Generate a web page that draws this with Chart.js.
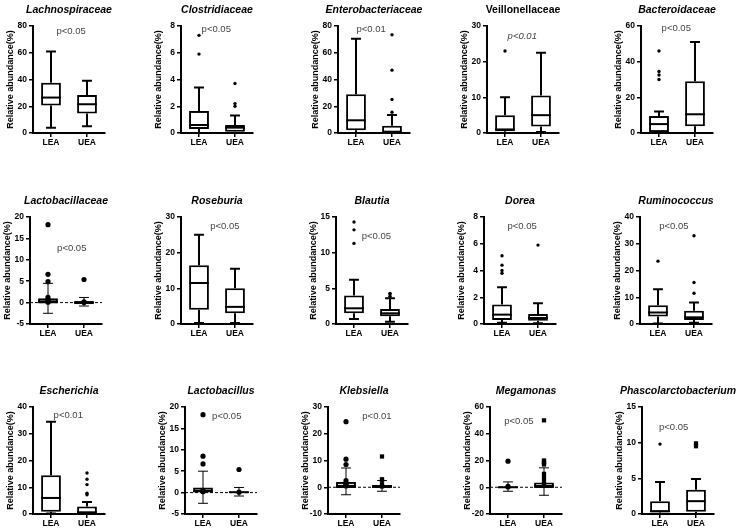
<!DOCTYPE html>
<html>
<head>
<meta charset="utf-8">
<script src="https://cdn.jsdelivr.net/npm/chart.js@4.4.0/dist/chart.umd.min.js"></script>
<style>
body{margin:0;background:#fff;}
#wrap{position:relative;width:740px;height:531px;overflow:hidden;}
#wrap canvas{position:absolute;}
</style>
</head>
<body>
<div id="wrap"></div>
<script>
// ---- data ----
const groups = ['LEA','UEA'];
const taxa = ['Lachnospiraceae','Clostridiaceae','Enterobacteriaceae','Veillonellaceae','Bacteroidaceae',
              'Lactobacillaceae','Roseburia','Blautia','Dorea','Ruminococcus',
              'Escherichia','Lactobacillus','Klebsiella','Megamonas','Phascolarctobacterium'];
const pText = ['p<0.05','p<0.05','p<0.01','p<0.01','p<0.05',
               'p<0.05','p<0.05','p<0.05','p<0.05','p<0.05',
               'p<0.01','p<0.05','p<0.01','p<0.05','p<0.05'];
const yMin  = [0,0,0,0,0, -5,0,0,0,0, 0,-5,-10,-20,0];
const yMax  = [80,8,80,30,60, 20,30,15,8,40, 40,20,30,60,15];
const yStep = [20,2,20,10,20, 5,10,5,2,10, 10,5,10,20,5];

// each entry is [LEA, UEA]
const whiskerLow  = [[4,5],[0,0],[0,0],[0,0.3],[0,0], [-2.5,-0.8],[0.3,0.3],[0.7,0.3],[0.1,0.05],[0.2,0.5], [0.2,0],[-2.5,-0.8],[-2.8,-1.5],[-3,-6],[0,0]];
const q1          = [[20.5,14.5],[0.3,0.1],[2,0.3],[0.5,1.8],[0.5,3.8], [-0.2,-0.3],[4,3],[1.5,1.1],[0.3,0.25],[2.8,1.5], [0.8,0.2],[0,-0.1],[-0.3,-0.3],[-0.5,-0.5],[0.2,0.3]];
const median      = [[26.5,21.5],[0.6,0.4],[9.5,0.8],[1,5],[5,10.5], [0.3,0.1],[11.5,4.8],[2.2,1.5],[0.7,0.45],[4.3,2.5], [6,0.6],[0.3,0.1],[0.5,0.3],[0,1],[0.4,1.8]];
const q3          = [[37.5,28.5],[1.65,0.6],[29,5.5],[5,10.5],[9.5,29], [1,0.3],[16.5,10],[4,2.1],[1.45,0.75],[7,5], [14.5,2.8],[1.2,0.2],[2,0.8],[0.5,3.5],[1.8,3.4]];
const whiskerHigh = [[61,39],[3.4,1.3],[70.5,13.5],[10,22.5],[12,51], [4.5,1.2],[25,15.5],[6.2,3.6],[2.75,1.55],[13,8], [34.5,4.5],[5,1.2],[7.2,2.5],[4,14.5],[4.5,4.9]];
const pointsLEA = [[],[5.9,7.3],[],[23],[30,32.5,34.5,46],
                   [0.1,0.4,0.7,1.2,4.9,6.6,18.2],[],[11.3,13.2,14.3],[3.8,4,4.4,5.1],[23.5],
                   [],[0.2,0.6,6.7,8.5,18.2],[0.5,1,1.5,2.5,8.5,10.5,24.5],[0.2,0.6,19.5],[9.8]];
const pointsUEA = [[],[2,2.2,3.7],[15.5,25,47,73.5],[],[],
                   [0.05,0.2,5.4],[],[3.9,4.2,4.3],[5.9],[11.5,15.5,33],
                   [7.2,7.8,11,13,15.3],[0.1,5.4],[0.3,1,2.5,3,11.5],[1,2,4,7,10,17,18,19,20,50],[9.5,9.9]];

// ---- layout ----
const axisX   = [33,181,338,487,641, 30,181,336,484,640, 33,185,328,490,642];
const plotTop = [26,217,407];
const pPos = [[0.53,0.05],[0.49,0.03],[0.46,0.03],[0.49,0.10],[0.49,0.02],
              [0.58,0.29],[0.61,0.09],[0.56,0.18],[0.53,0.09],[0.47,0.09],
              [0.49,0.08],[0.58,0.09],[0.68,0.09],[0.40,0.13],[0.44,0.19]];
const dotPanels = [5,11,12,13];
const squareUEA = [12,13,14];
const plainTitle = [3];
const italicP = [3];

Chart.defaults.font.family = '"Liberation Sans", Arial, sans-serif';
Chart.defaults.color = '#000';

// whiskers, medians, zero line, title and p label
const boxPlugin = {
    id:'boxes',
    beforeDatasetsDraw(chart, args, opts){
        const k = opts.panel;
        if (yMin[k] >= 0) return;
        const ctx = chart.ctx, area = chart.chartArea;
        const y0 = chart.scales.y.getPixelForValue(0);
        ctx.save();
        ctx.strokeStyle = '#000';
        ctx.lineWidth = 1;
        ctx.setLineDash([3,2]);
        ctx.beginPath();
        ctx.moveTo(area.left, y0);
        ctx.lineTo(area.right, y0);
        ctx.stroke();
        ctx.restore();
    },
    afterDatasetsDraw(chart, args, opts){
        const k = opts.panel;
        const ctx = chart.ctx, ys = chart.scales.y, area = chart.chartArea;
        const thin = dotPanels.includes(k);
        ctx.save();
        ctx.strokeStyle = '#000';
        chart.getDatasetMeta(0).data.forEach(function(bar, g){
            const x = bar.x, w = bar.width, cap = w * 0.5;
            const yHi = ys.getPixelForValue(whiskerHigh[k][g]);
            const yLo = ys.getPixelForValue(whiskerLow[k][g]);
            ctx.lineWidth = thin ? 1 : 2;
            ctx.beginPath();
            ctx.moveTo(x, ys.getPixelForValue(q3[k][g])); ctx.lineTo(x, yHi);
            ctx.moveTo(x, ys.getPixelForValue(q1[k][g])); ctx.lineTo(x, yLo);
            ctx.moveTo(x - cap/2, yHi); ctx.lineTo(x + cap/2, yHi);
            ctx.moveTo(x - cap/2, yLo); ctx.lineTo(x + cap/2, yLo);
            ctx.stroke();
            ctx.lineWidth = 2;
            const ym = ys.getPixelForValue(median[k][g]);
            ctx.beginPath();
            ctx.moveTo(x - w/2, ym); ctx.lineTo(x + w/2, ym);
            ctx.stroke();
        });
        // title
        const cx = (area.left + area.right) / 2;
        ctx.fillStyle = '#000';
        ctx.textAlign = 'center';
        ctx.textBaseline = 'middle';
        ctx.font = (plainTitle.includes(k) ? '' : 'italic ') + 'bold 10.5px "Liberation Sans", Arial, sans-serif';
        ctx.fillText(taxa[k], cx, area.top - 16);
        // p value
        ctx.fillStyle = '#444';
        ctx.font = (italicP.includes(k) ? 'italic ' : '') + '9.5px "Liberation Sans", Arial, sans-serif';
        ctx.fillText(pText[k], area.left + pPos[k][0] * (area.right - area.left),
                     area.top + pPos[k][1] * (area.bottom - area.top));
        ctx.restore();
    }
};

const wrap = document.getElementById('wrap');
for (let k = 0; k < taxa.length; k++) {
    const cv = document.createElement('canvas');
    cv.width = 140; cv.height = 157;
    cv.style.left = (axisX[k] - 34) + 'px';
    cv.style.top = (plotTop[Math.floor(k / 5)] - 26) + 'px';
    wrap.appendChild(cv);

    const thin = dotPanels.includes(k);
    const axisGrid = {display:true, drawOnChartArea:false, offset:false, tickLength:4, color:'#000', lineWidth:1.5};

    new Chart(cv, {
        type:'bar',
        data:{
            labels:groups,
            datasets:[
                {
                    type:'bar', order:1,
                    data:groups.map((g, j) => [q1[k][j], q3[k][j]]),
                    backgroundColor:'#fff', borderColor:'#000', borderWidth:2, borderSkipped:false,
                    barPercentage:0.55, categoryPercentage:1
                },
                {
                    type:'scatter', order:0,
                    data:pointsLEA[k].map(v => ({x:'LEA', y:v})),
                    pointStyle:'circle', pointRadius:thin ? 2.6 : 1.7,
                    backgroundColor:'#000', borderColor:'#000', borderWidth:0
                },
                {
                    type:'scatter', order:0,
                    data:pointsUEA[k].map(v => ({x:'UEA', y:v})),
                    pointStyle:squareUEA.includes(k) ? 'rect' : 'circle',
                    pointRadius:squareUEA.includes(k) ? 3 : (thin ? 2.6 : 1.7),
                    backgroundColor:'#000', borderColor:'#000', borderWidth:0
                }
            ]
        },
        options:{
            responsive:false,
            animation:false,
            layout:{padding:{top:26, right:34, left:0, bottom:0}},
            plugins:{
                legend:{display:false},
                tooltip:{enabled:false},
                title:{display:false},
                boxes:{panel:k}
            },
            scales:{
                x:{
                    type:'category', offset:true,
                    grid:axisGrid,
                    border:{color:'#000', width:2},
                    ticks:{color:'#000', font:{size:8.5, weight:'bold'}, padding:1, maxRotation:0},
                    afterFit(s){ s.height = 24; }
                },
                y:{
                    min:yMin[k], max:yMax[k],
                    grid:axisGrid,
                    border:{color:'#000', width:2},
                    ticks:{stepSize:yStep[k], color:'#000', font:{size:8.5, weight:'bold'}, padding:2},
                    title:{display:true, text:'Relative abundance(%)', color:'#000',
                           font:{size:9, weight:'bold'}, padding:{top:6.5, bottom:0}},
                    afterFit(s){ s.width = 34; }
                }
            }
        },
        plugins:[boxPlugin]
    });
}
</script>
</body>
</html>
